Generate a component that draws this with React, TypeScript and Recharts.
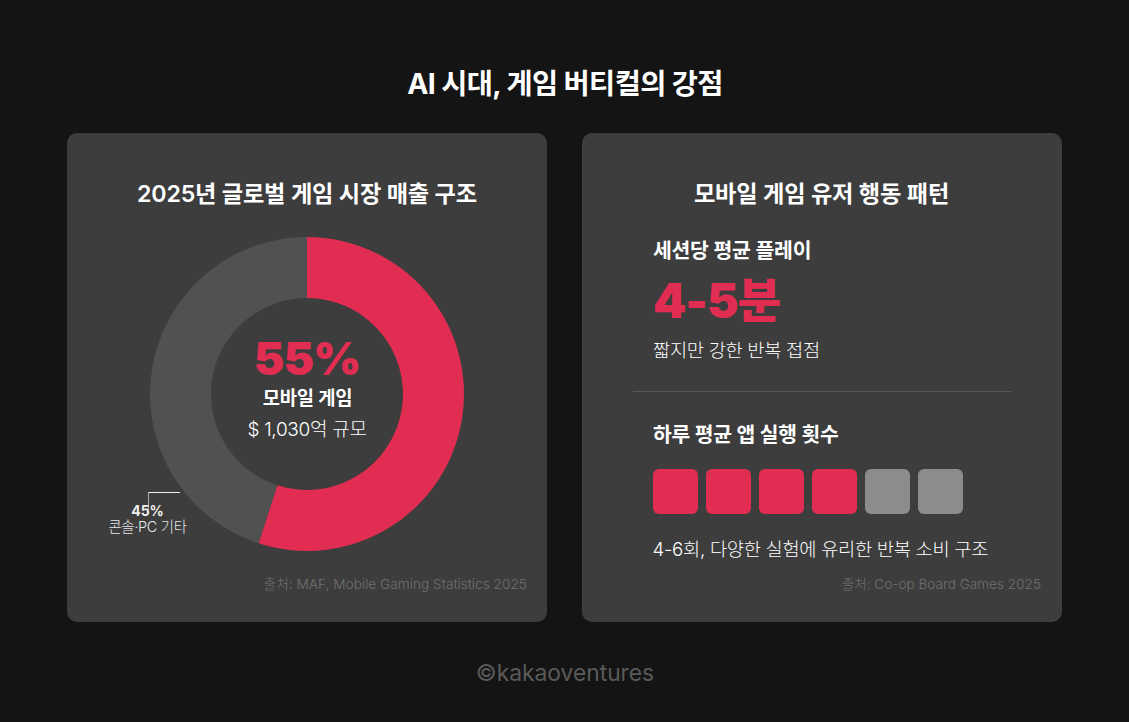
import { CSSProperties } from "react";
import { PieChart, Pie, Cell, BarChart, Bar, XAxis, YAxis } from "recharts";

const shareNames = ["모바일 게임", "콘솔·PC 기타"];
const shareValues = [55, 45];
const shareColors = ["#e22d52", "#515151"];

const runLabels = ["1", "2", "3", "4", "5", "6"];
const runValues = [1, 1, 1, 1, 1, 1];
const runColors = ["#e22d52", "#e22d52", "#e22d52", "#e22d52", "#8c8c8c", "#8c8c8c"];

const pieData = shareNames.map((name, i) => ({ name, value: shareValues[i] }));
const runData = runLabels.map((name, i) => ({ name, value: runValues[i] }));

const FONT = 'Inter, "Noto Sans CJK KR", sans-serif';

interface TxtProps {
  x: number;
  y: number;
  size: number;
  weight?: number;
  color?: string;
  align?: "left" | "center" | "right";
  spacing?: number;
  children: React.ReactNode;
}

// y is the vertical middle of the line, x depends on align
function Txt({ x, y, size, weight = 400, color = "#ffffff", align = "left", spacing = 0, children }: TxtProps) {
  const shift = align === "center" ? "-50%" : align === "right" ? "-100%" : "0";
  const style: CSSProperties = {
    position: "absolute",
    left: x,
    top: y,
    transform: `translate(${shift}, -50%)`,
    fontSize: size,
    fontWeight: weight,
    color,
    letterSpacing: spacing,
    whiteSpace: "nowrap",
    lineHeight: 1,
  };
  return <div style={style}>{children}</div>;
}

const cardStyle: CSSProperties = {
  position: "absolute",
  top: 133,
  width: 480,
  height: 489,
  background: "#3d3d3d",
  borderRadius: 10,
};

export default function App() {
  return (
    <div
      style={{
        position: "absolute",
        left: 0,
        top: 0,
        width: 1129,
        height: 722,
        background: "#141414",
        fontFamily: FONT,
        overflow: "hidden",
      }}
    >
      <Txt x={565} y={84} size={28.4} weight={700} align="center" spacing={-0.6}>
        AI 시대, 게임 버티컬의 강점
      </Txt>

      <div style={{ ...cardStyle, left: 67 }} />
      <div style={{ ...cardStyle, left: 582 }} />

      {/* left card */}
      <Txt x={307} y={194.5} size={23.2} weight={600} align="center" spacing={-0.2}>
        2025년 글로벌 게임 시장 매출 구조
      </Txt>
      <div style={{ position: "absolute", left: 147, top: 234 }}>
        <PieChart width={320} height={320} margin={{ top: 0, right: 0, bottom: 0, left: 0 }}>
          <Pie
            data={pieData}
            dataKey="value"
            cx={160}
            cy={160}
            outerRadius={157}
            innerRadius={96}
            startAngle={90}
            endAngle={-270}
            stroke="none"
            isAnimationActive={false}
          >
            {pieData.map((d, i) => (
              <Cell key={d.name} fill={shareColors[i]} />
            ))}
          </Pie>
        </PieChart>
      </div>
      <Txt x={307} y={358} size={46} weight={900} color="#e22d52" align="center" spacing={-1}>
        55%
      </Txt>
      <Txt x={307.5} y={399} size={18.8} weight={600} align="center" spacing={-0.3}>
        모바일 게임
      </Txt>
      <Txt x={307} y={429} size={19} weight={300} align="center" spacing={-0.3}>
        $ 1,030억 규모
      </Txt>

      <div
        style={{
          position: "absolute",
          left: 148,
          top: 492,
          width: 31,
          height: 17,
          borderTop: "1px solid #f0f0f0",
          borderLeft: "1px solid #a8a8a8",
        }}
      />
      <Txt x={147.5} y={511} size={14} weight={700} color="#f0f0f0" align="center">
        45%
      </Txt>
      <Txt x={147.5} y={526.5} size={14.4} weight={300} color="#e6e6e6" align="center" spacing={-0.3}>
        콘솔·PC 기타
      </Txt>
      <Txt x={527} y={585} size={13.7} weight={300} color="#707070" align="right">
        출처: MAF, Mobile Gaming Statistics 2025
      </Txt>

      {/* right card */}
      <Txt x={821.5} y={194.5} size={23.2} weight={600} align="center" spacing={-0.2}>
        모바일 게임 유저 행동 패턴
      </Txt>
      <Txt x={653} y={251} size={20.5} weight={600} spacing={-0.3}>
        세션당 평균 플레이
      </Txt>
      <Txt x={653} y={301} size={47.5} weight={900} color="#e22d52" spacing={-1}>
        4-5분
      </Txt>
      <Txt x={653} y={351} size={18.7} weight={300} spacing={-0.3}>
        짧지만 강한 반복 접점
      </Txt>
      <div style={{ position: "absolute", left: 633, top: 391, width: 378, height: 1, background: "#595959" }} />
      <Txt x={653} y={435} size={20.4} weight={600} spacing={-0.3}>
        하루 평균 앱 실행 횟수
      </Txt>
      <div style={{ position: "absolute", left: 649, top: 469 }}>
        <BarChart width={318} height={45} data={runData} margin={{ top: 0, right: 0, bottom: 0, left: 0 }}>
          <XAxis dataKey="name" hide />
          <YAxis hide domain={[0, 1]} />
          <Bar dataKey="value" barSize={45} radius={6} isAnimationActive={false}>
            {runData.map((d, i) => (
              <Cell key={d.name} fill={runColors[i]} />
            ))}
          </Bar>
        </BarChart>
      </div>
      <Txt x={652.5} y={550} size={18.7} weight={300} spacing={-0.3}>
        4-6회, 다양한 실험에 유리한 반복 소비 구조
      </Txt>
      <Txt x={1041} y={585} size={13.6} weight={300} color="#707070" align="right">
        출처: Co-op Board Games 2025
      </Txt>

      <Txt x={565} y={673} size={22.8} weight={400} color="#5a5a5a" align="center">
        ©kakaoventures
      </Txt>
    </div>
  );
}
